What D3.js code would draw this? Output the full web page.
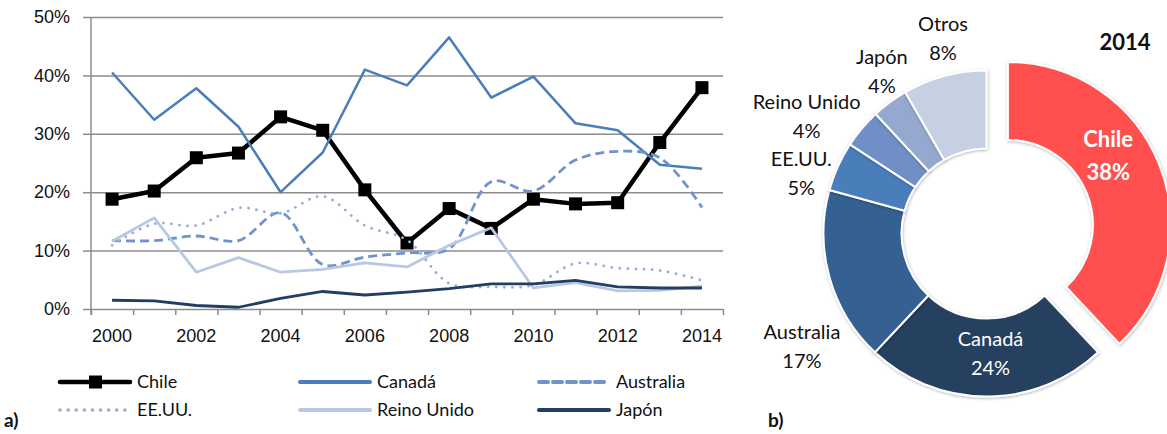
<!DOCTYPE html>
<html>
<head>
<meta charset="utf-8">
<script src="https://cdn.jsdelivr.net/npm/d3@7"></script>
<style>
  body { margin: 0; background: #fff; }
  svg { font-family: Lato, "Open Sans", sans-serif; }
  .grid line { stroke: #8c8c8c; stroke-width: 1.5; }
  .grid path { display: none; }
</style>
</head>
<body>
<div id="chart"></div>
<script>
// data - line chart (share in %)
const years = [2000, 2001, 2002, 2003, 2004, 2005, 2006, 2007, 2008, 2009, 2010, 2011, 2012, 2013, 2014];
const yearLabels = [2000, 2002, 2004, 2006, 2008, 2010, 2012, 2014];
const yTicks = [0, 10, 20, 30, 40, 50];

const chile     = [18.8, 20.2, 25.9, 26.7, 32.9, 30.6, 20.4, 11.3, 17.2, 13.8, 18.8, 18.0, 18.2, 28.5, 37.9];
const canada    = [40.5, 32.4, 37.8, 31.2, 20.0, 26.8, 41.0, 38.3, 46.5, 36.2, 39.8, 31.8, 30.6, 24.7, 24.0];
const australia = [11.7, 11.7, 12.5, 11.7, 16.5, 7.6, 8.9, 9.6, 10.3, 21.8, 20.2, 25.5, 27.0, 25.9, 17.4];
const eeuu      = [10.9, 14.6, 14.3, 17.3, 16.4, 19.3, 14.3, 11.8, 4.4, 3.8, 4.1, 7.8, 7.0, 6.6, 4.9];
const reinoUnido= [11.6, 15.6, 6.3, 8.8, 6.3, 6.8, 7.9, 7.2, 10.9, 13.9, 3.6, 4.5, 3.1, 3.2, 3.9];
const japon     = [1.5, 1.4, 0.6, 0.3, 1.8, 3.0, 2.4, 2.9, 3.5, 4.3, 4.3, 4.9, 3.8, 3.6, 3.6];

// data - donut 2014
const pieNames  = ['Chile', 'Canadá', 'Australia', 'EE.UU.', 'Reino Unido', 'Japón', 'Otros'];
const pieValues = [38.0, 24.0, 17.3, 4.9, 3.9, 3.6, 8.3];

// series styling
const series = [
  { name: 'Chile',       values: chile,      color: '#000000', width: 4.5, legW: 4.5, dash: null,    marker: true },
  { name: 'Canadá',      values: canada,     color: '#4a7ebb', width: 2.5, legW: 4, dash: null },
  { name: 'Australia',   values: australia,  color: '#6f93cb', width: 2.8, legW: 4, dash: '9 5',   smooth: true },
  { name: 'EE.UU.',      values: eeuu,       color: '#97afd8', width: 2.8, legW: 3.5, dash: '0.1 8', smooth: true, round: true },
  { name: 'Reino Unido', values: reinoUnido, color: '#b9c8e2', width: 2.8, legW: 4, dash: null },
  { name: 'Japón',       values: japon,      color: '#213e63', width: 2.8, legW: 4, dash: null }
];
const pieColors = ['#ff5050', '#254061', '#366092', '#4a7ebb', '#6f8fc6', '#95a8cf', '#c6d0e3'];

const W = 1167, H = 434;
const svg = d3.select('#chart').append('svg')
  .attr('width', W)
  .attr('height', H);

//line chart dimensions
let dims = { left: 91, right: 723, top: 17, bottom: 309 };

let xScale = d3.scaleBand()
  .domain(years)
  .range([dims.left, dims.right]);

let xEdge = d3.scaleLinear()
  .domain([0, years.length])
  .range([dims.left, dims.right]);

let yScale = d3.scaleLinear()
  .domain([0, 50])
  .range([dims.bottom, dims.top]);

// horizontal grid
svg.append('g')
  .attr('class', 'grid')
  .attr('transform', `translate(${dims.left},0)`)
  .call(d3.axisLeft(yScale).tickValues(yTicks).tickSize(-(dims.right - dims.left)).tickFormat(''));

// y axis with labels
let yAxis = svg.append('g')
  .attr('class', 'grid')
  .attr('transform', `translate(${dims.left},0)`)
  .call(d3.axisLeft(yScale).tickValues(yTicks).tickSize(8).tickPadding(13).tickFormat(d => d + '%'));
yAxis.selectAll('text').style('font-size', '18px').style('fill', '#111');

svg.append('line')
  .attr('x1', dims.left).attr('x2', dims.left)
  .attr('y1', dims.top).attr('y2', dims.bottom + 6)
  .attr('stroke', '#8c8c8c').attr('stroke-width', 1.5);

// x axis: ticks between categories, labels every 2 years
svg.append('g')
  .attr('class', 'grid')
  .attr('transform', `translate(0,${dims.bottom})`)
  .call(d3.axisBottom(xEdge).tickValues(d3.range(years.length + 1)).tickSize(6).tickFormat(''));

let xAxis = svg.append('g')
  .attr('transform', `translate(0,${dims.bottom})`)
  .call(d3.axisBottom(xScale).tickValues(yearLabels).tickSize(0).tickPadding(20));
xAxis.select('.domain').remove();
xAxis.selectAll('text').style('font-size', '18px').style('fill', '#111');

// draw lines
const xPos = (d, i) => xScale(years[i]) + xScale.bandwidth() / 2;

series.forEach(s => {
  let lineGen = d3.line()
    .x(xPos)
    .y(d => yScale(d))
    .curve(s.smooth ? d3.curveCatmullRom.alpha(0.5) : d3.curveLinear);

  svg.append('path')
    .attr('d', lineGen(s.values))
    .attr('fill', 'none')
    .attr('stroke', s.color)
    .attr('stroke-width', s.width)
    .attr('stroke-dasharray', s.dash)
    .attr('stroke-linecap', s.round ? 'round' : 'butt')
    .attr('stroke-linejoin', 'round');

  if (s.marker) {
    svg.selectAll(null)
      .data(s.values)
      .enter().append('rect')
      .attr('x', (d, i) => xPos(d, i) - 6.5)
      .attr('y', d => yScale(d) - 6.5)
      .attr('width', 13)
      .attr('height', 13)
      .attr('fill', s.color);
  }
});

// legend
let legend = svg.append('g');
const legCols = [58, 298, 537];
const legRows = [382, 410];
series.forEach((s, i) => {
  let lx = legCols[i % 3], ly = legRows[Math.floor(i / 3)];
  let g = legend.append('g').attr('transform', `translate(${lx},${ly})`);
  g.append('line')
    .attr('x1', 2).attr('x2', 72)
    .attr('stroke', s.color)
    .attr('stroke-width', s.legW)
    .attr('stroke-dasharray', s.dash)
    .attr('stroke-linecap', 'round');
  if (s.marker) {
    g.append('rect').attr('x', 31).attr('y', -6.5).attr('width', 13).attr('height', 13).attr('fill', s.color);
  }
  g.append('text')
    .attr('x', 79).attr('y', 0)
    .attr('dy', '0.35em')
    .style('font-size', '18px')
    .style('fill', '#111')
    .text(s.name);
});

svg.append('text').attr('x', 4).attr('y', 427).text('a)')
  .style('font-size', '19px').style('font-weight', 'bold').style('fill', '#111');
svg.append('text').attr('x', 768).attr('y', 427).text('b)')
  .style('font-size', '19px').style('font-weight', 'bold').style('fill', '#111');

// donut chart
const cx = 986.5, cy = 233.5, rOut = 163, rIn = 85, explode = 23;

let defs = svg.append('defs');
let filt = defs.append('filter').attr('id', 'shadow')
  .attr('x', '-20%').attr('y', '-20%').attr('width', '140%').attr('height', '140%');
filt.append('feDropShadow')
  .attr('dx', 0.5).attr('dy', 1)
  .attr('stdDeviation', 1.5)
  .attr('flood-color', '#000')
  .attr('flood-opacity', 0.3);

let pie = d3.pie().sort(null).value(d => d)(pieValues);
let arcGen = d3.arc().innerRadius(rIn).outerRadius(rOut);
let labelArc = d3.arc().innerRadius(200).outerRadius(200);

let donut = svg.append('g').attr('transform', `translate(${cx},${cy})`);

const offset = (d, i) => {
  if (i !== 0) return [0, 0];
  let a = (d.startAngle + d.endAngle) / 2;
  return [explode * Math.sin(a), -explode * Math.cos(a)];
};

donut.selectAll('path')
  .data(pie)
  .enter().append('path')
  .attr('d', arcGen)
  .attr('transform', (d, i) => `translate(${offset(d, i)})`)
  .attr('fill', (d, i) => pieColors[i])
  .attr('stroke', '#fff')
  .attr('stroke-width', 2)
  .attr('filter', 'url(#shadow)');

// label nudges (Excel-style placement)
const labelNudge = {
  'Chile': [-15, -24], 'Canadá': [4, -4], 'Australia': [8, 59], 'EE.UU.': [-3, 22],
  'Reino Unido': [-27, 12], 'Japón': [14, -1], 'Otros': [8, -2]
};

pie.forEach((d, i) => {
  let name = pieNames[i];
  let inside = i < 2;
  let c = inside ? arcGen.centroid(d) : labelArc.centroid(d);
  let o = offset(d, i);
  let n = labelNudge[name];
  let px = c[0] + o[0] + n[0], py = c[1] + o[1] + n[1];
  let gap = i === 0 ? 16.5 : 14.5;
  let t = donut.append('text')
    .attr('text-anchor', 'middle')
    .style('font-size', i === 0 ? '22px' : '20px')
    .style('font-weight', i === 0 ? 'bold' : 'normal')
    .style('fill', inside ? '#fff' : '#111');
  t.append('tspan').attr('x', px).attr('y', py - gap).attr('dy', '0.35em').text(name);
  t.append('tspan').attr('x', px).attr('y', py + gap).attr('dy', '0.35em').text(Math.round(d.data) + '%');
});

svg.append('text')
  .attr('x', 1125).attr('y', 42)
  .attr('dy', '0.35em')
  .attr('text-anchor', 'middle')
  .style('font-size', '22px')
  .style('font-weight', 'bold')
  .style('fill', '#111')
  .text('2014');
</script>
</body>
</html>
